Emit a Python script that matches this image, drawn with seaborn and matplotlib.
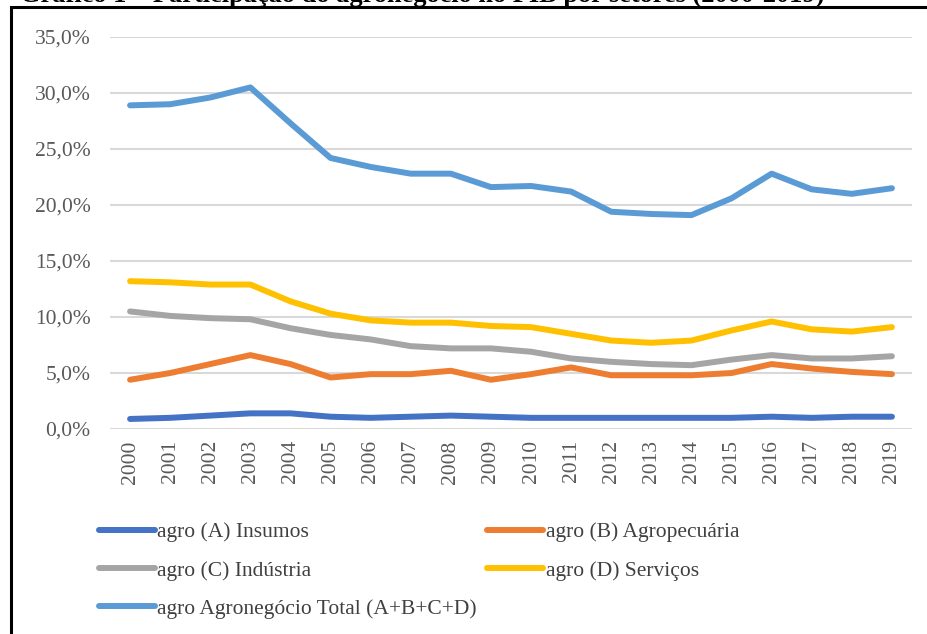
import pandas as pd
import matplotlib.pyplot as plt
import matplotlib.patches as patches
from matplotlib.lines import Line2D
import seaborn as sns

years = list(range(2000, 2020))
insumos = [0.9, 1.0, 1.2, 1.4, 1.4, 1.1, 1.0, 1.1, 1.2, 1.1, 1.0, 1.0, 1.0, 1.0, 1.0, 1.0, 1.1, 1.0, 1.1, 1.1]
agropecuaria = [4.4, 5.0, 5.8, 6.6, 5.8, 4.6, 4.9, 4.9, 5.2, 4.4, 4.9, 5.5, 4.8, 4.8, 4.8, 5.0, 5.8, 5.4, 5.1, 4.9]
industria = [10.5, 10.1, 9.9, 9.8, 9.0, 8.4, 8.0, 7.4, 7.2, 7.2, 6.9, 6.3, 6.0, 5.8, 5.7, 6.2, 6.6, 6.3, 6.3, 6.5]
servicos = [13.2, 13.1, 12.9, 12.9, 11.4, 10.3, 9.7, 9.5, 9.5, 9.2, 9.1, 8.5, 7.9, 7.7, 7.9, 8.8, 9.6, 8.9, 8.7, 9.1]
total = [28.9, 29.0, 29.6, 30.5, 27.3, 24.2, 23.4, 22.8, 22.8, 21.6, 21.7, 21.2, 19.4, 19.2, 19.1, 20.6, 22.8, 21.4, 21.0, 21.5]

series_names = ['agro (A) Insumos', 'agro (B) Agropecuária', 'agro (C) Indústria',
                'agro (D) Serviços', 'agro Agronegócio Total (A+B+C+D)']
colors = ['#4472C4', '#ED7D31', '#A5A5A5', '#FFC000', '#5B9BD5']

df = pd.DataFrame({'ano': years, series_names[0]: insumos, series_names[1]: agropecuaria,
                   series_names[2]: industria, series_names[3]: servicos, series_names[4]: total})
long_df = df.melt(id_vars='ano', var_name='serie', value_name='valor')

sns.set_style('white')
plt.rcParams['font.family'] = ['Liberation Serif', 'DejaVu Serif']

fig = plt.figure(figsize=(9.27, 6.34), dpi=100)
ax = fig.add_axes([0.1187, 0.3233, 0.8651, 0.6183])

sns.lineplot(data=long_df, x='ano', y='valor', hue='serie', hue_order=series_names,
             palette=colors, linewidth=4.3, ax=ax, legend=False)
for line in ax.lines:
    line.set_solid_capstyle('round')

ax.set_xlim(1999.5, 2019.5)
ax.set_ylim(0, 35)
ax.set_yticks([0, 5, 10, 15, 20, 25, 30, 35])
ax.set_yticklabels([f'{v:.1f}%'.replace('.', ',') for v in [0, 5, 10, 15, 20, 25, 30, 35]])
ax.set_xticks(years)
ax.set_xticklabels([str(y) for y in years], rotation=90)
ax.tick_params(axis='both', length=0, labelsize=15.5, colors='#595959')
ax.tick_params(axis='y', pad=14)
ax.tick_params(axis='x', pad=8)
ax.grid(axis='y', color='#D9D9D9', linewidth=1.5)
ax.set_axisbelow(True)
ax.set_xlabel('')
ax.set_ylabel('')
for s in ax.spines.values():
    s.set_visible(False)

# legend, row-wise order like the original
handles = [Line2D([0], [0], color=c, linewidth=4.3, solid_capstyle='round') for c in colors]
order = [0, 2, 4, 1, 3]
fig.legend([handles[i] for i in order], [series_names[i] for i in order],
           ncol=2, loc='upper left', bbox_to_anchor=(0.097, 0.19), frameon=False,
           fontsize=15.5, labelcolor='#404040', handlelength=2.6, handletextpad=0.12,
           columnspacing=0.5, labelspacing=0.85, borderaxespad=0)

# frame of the chart (cut at right and bottom)
fig.add_artist(patches.Rectangle((11 / 927, -0.1), 1.2, 1 - 7 / 634 + 0.1, transform=fig.transFigure,
                                 fill=False, edgecolor='black', linewidth=2.2, clip_on=False))

# title, mostly cut off above the image
fig.text(20 / 927, 1 - 2 / 634, 'Gráfico 1 – Participação do agronegócio no PIB por setores (2000-2019)',
         fontsize=19, fontweight='bold', va='baseline', ha='left', color='black')

fig.savefig('out.png', dpi=100)
